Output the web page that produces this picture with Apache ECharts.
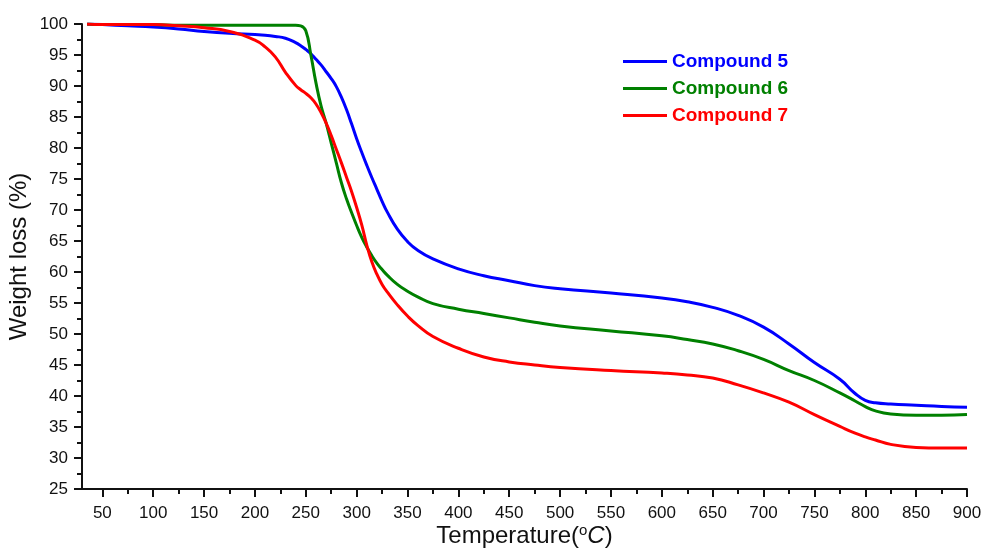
<!DOCTYPE html>
<html>
<head>
<meta charset="utf-8">
<script src="https://cdn.jsdelivr.net/npm/echarts@6/dist/echarts.min.js"></script>
<style>
  html, body { margin: 0; padding: 0; background: #fff; }
  #tgaChart { width: 983px; height: 553px; }
</style>
</head>
<body>
<div id="tgaChart"></div>
<script>
// temperatures (°C) shared by all three curves
const temps = [35, 50, 75, 100, 125, 150, 175, 200, 210, 220, 230, 240, 245, 250, 255, 260, 265, 270, 275, 280,
  285, 290, 295, 300, 305, 310, 315, 320, 325, 330, 340, 350, 360, 375, 400, 425, 450, 475, 500, 550,
  600, 625, 650, 675, 700, 725, 750, 775, 790, 800, 810, 825, 850, 875, 900];

// weight (%)
const compound5 = [100, 99.9, 99.7, 99.5, 99.2, 98.8, 98.5, 98.3, 98.2, 98.0, 97.7, 97.0, 96.5, 95.9, 95.2, 94.3, 93.4, 92.3, 91.2, 89.9,
  88.2, 86.2, 83.9, 81.5, 79.3, 77.2, 75.2, 73.3, 71.4, 69.7, 66.9, 64.9, 63.5, 62.1, 60.5, 59.4, 58.6, 57.8, 57.3, 56.6,
  55.8, 55.2, 54.3, 53.0, 51.1, 48.4, 45.4, 42.7, 40.4, 39.3, 38.9, 38.7, 38.5, 38.3, 38.2];
const compound6 = [100, 99.9, 99.9, 99.9, 99.8, 99.8, 99.8, 99.8, 99.8, 99.8, 99.8, 99.8, 99.7, 98.9, 95.0, 90.5, 86.8, 84.0, 80.8, 77.6,
  74.4, 71.8, 69.6, 67.5, 65.6, 64.0, 62.6, 61.4, 60.4, 59.5, 58.0, 56.9, 56.0, 54.9, 54.0, 53.3, 52.6, 51.9, 51.3, 50.5,
  49.7, 49.1, 48.4, 47.3, 45.9, 44.1, 42.5, 40.5, 39.2, 38.3, 37.6, 37.1, 36.9, 36.9, 37.0];
const compound7 = [100, 99.9, 99.9, 99.9, 99.7, 99.4, 98.8, 97.4, 96.3, 94.7, 92.2, 90.1, 89.4, 88.8, 88.1, 87.1, 85.7, 84.0, 82.0, 79.8,
  77.6, 75.3, 73.0, 70.4, 67.6, 64.3, 61.6, 59.6, 58.0, 56.8, 54.7, 52.9, 51.4, 49.6, 47.7, 46.3, 45.5, 45.0, 44.6, 44.1,
  43.7, 43.4, 42.9, 41.8, 40.5, 39.0, 37.0, 35.1, 34.0, 33.4, 32.9, 32.2, 31.7, 31.6, 31.6];

const seriesNames = ['Compound 5', 'Compound 6', 'Compound 7'];
const seriesColors = ['#0000ff', '#008000', '#ff0000'];

// tick labels
const xMajorTicks = [50, 100, 150, 200, 250, 300, 350, 400, 450, 500, 550, 600, 650, 700, 750, 800, 850, 900];
const xMinorTicks = [75, 125, 175, 225, 275, 325, 375, 425, 475, 525, 575, 625, 675, 725, 775, 825, 875];

function pairUp(vals) {
  return temps.map((t, i) => [t, vals[i]])
}

const chart = echarts.init(document.getElementById('tgaChart'));

const FONT = 'Liberation Sans, Arial, sans-serif';
const axisFont = { color: '#111', fontSize: 17, fontFamily: FONT };

chart.setOption({
  backgroundColor: '#fff',
  animation: false,
  grid: { left: 82, right: 16, top: 24, bottom: 64, outerBoundsMode: 'none', containLabel: false },
  legend: {
    orient: 'vertical',
    left: 618,
    top: 47,
    itemWidth: 44,
    itemHeight: 3,
    itemGap: 8,
    icon: 'rect',
    data: seriesNames.map((n, i) => ({
      name: n,
      textStyle: { color: seriesColors[i], fontWeight: 'bold', fontSize: 19, fontFamily: FONT }
    }))
  },
  xAxis: [{
    type: 'value',
    min: 30,
    max: 900,
    name: '{n|Temperature(}{sup|o}{it|C}{n|)}',
    nameLocation: 'middle',
    nameGap: 34,
    nameMoveOverlap: false,
    nameTextStyle: {
      rich: {
        n: { fontSize: 24, color: '#111', fontFamily: FONT },
        sup: { fontSize: 15, color: '#111', fontFamily: FONT, verticalAlign: 'top', padding: [0, 0, 12, 0] },
        it: { fontSize: 24, color: '#111', fontStyle: 'italic', fontFamily: FONT }
      }
    },
    axisLine: { show: true, onZero: false, lineStyle: { color: '#111', width: 2 } },
    axisTick: { show: true, inside: false, length: 8, lineStyle: { color: '#111', width: 2 }, customValues: xMajorTicks },
    axisLabel: Object.assign({ margin: 16, customValues: xMajorTicks }, axisFont),
    splitLine: { show: false }
  }, {
    // second axis only for the minor ticks
    type: 'value',
    position: 'bottom',
    min: 30,
    max: 900,
    axisLine: { show: false },
    axisTick: { show: true, inside: false, length: 5, lineStyle: { color: '#111', width: 2 }, customValues: xMinorTicks },
    axisLabel: { show: false },
    splitLine: { show: false }
  }],
  yAxis: {
    type: 'value',
    min: 25,
    max: 100,
    interval: 5,
    name: 'Weight loss (%)',
    nameLocation: 'middle',
    nameGap: 51,
    nameMoveOverlap: false,
    nameTextStyle: { fontSize: 24, color: '#111', fontFamily: FONT },
    axisLine: { show: true, onZero: false, lineStyle: { color: '#111', width: 2 } },
    axisTick: { show: true, inside: false, length: 8, lineStyle: { color: '#111', width: 2 } },
    minorTick: { show: true, splitNumber: 2, length: 5, lineStyle: { color: '#111', width: 2 } },
    axisLabel: Object.assign({ margin: 14 }, axisFont),
    splitLine: { show: false }
  },
  series: seriesNames.map((n, i) => ({
    name: n,
    type: 'line',
    xAxisIndex: 0,
    data: pairUp([compound5, compound6, compound7][i]),
    smooth: 0.5,
    symbol: 'none',
    lineStyle: { color: seriesColors[i], width: 3 },
    itemStyle: { color: seriesColors[i] }
  }))
});
</script>
</body>
</html>
